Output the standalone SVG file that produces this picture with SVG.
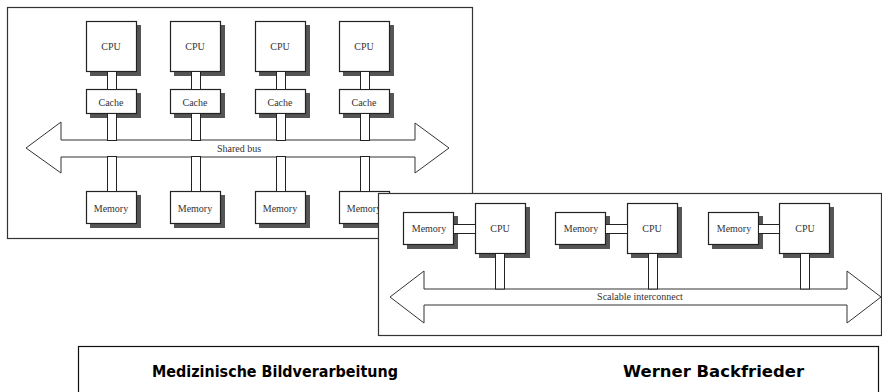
<svg xmlns="http://www.w3.org/2000/svg" width="882" height="392" viewBox="0 0 882 392">
<defs>
<style>
.frame{fill:#fff;stroke:#333;stroke-width:1.2}
.sh{fill:#555}
.box{fill:#fff;stroke:#222;stroke-width:1.2}
.lnk{fill:#fff;stroke:#222;stroke-width:1}
.bus{fill:#fff;stroke:#333;stroke-width:1}
.t{font-family:"Liberation Serif","Times New Roman",serif;font-size:10px;fill:#333;text-anchor:middle}
.ft{font-family:"DejaVu Sans","Noto Sans",sans-serif;font-weight:bold;font-size:15px;fill:#000}
</style>
</defs>
<rect width="882" height="392" fill="#fff"/>

<!-- Frame 1: shared bus -->
<g id="frame1">
<rect class="frame" x="7.5" y="7.5" width="465" height="231"/>
</g>
<g id="shared-bus">
<polygon class="bus" points="26,148 61,122 61,140 415,140 415,123 449,148 415,173 415,157 61,157 61,173"/>
<text class="t" x="239" y="152">Shared bus</text>
</g>
<g id="cpu1"><rect class="sh" x="90" y="25" width="51" height="51"/><rect class="box" x="86.5" y="21.5" width="50" height="50"/><text class="t" x="111" y="50">CPU</text></g>
<g id="cpu2"><rect class="sh" x="174" y="25" width="51" height="51"/><rect class="box" x="170.5" y="21.5" width="50" height="50"/><text class="t" x="195" y="50">CPU</text></g>
<g id="cpu3"><rect class="sh" x="259" y="25" width="51" height="51"/><rect class="box" x="255.5" y="21.5" width="50" height="50"/><text class="t" x="280" y="50">CPU</text></g>
<g id="cpu4"><rect class="sh" x="343" y="25" width="51" height="51"/><rect class="box" x="339.5" y="21.5" width="50" height="50"/><text class="t" x="364" y="50">CPU</text></g>

<g id="cache1"><rect class="sh" x="90" y="93" width="51" height="25"/><rect class="box" x="86.5" y="89.5" width="50" height="24"/><text class="t" x="111" y="106">Cache</text></g>
<g id="cache2"><rect class="sh" x="174" y="93" width="51" height="25"/><rect class="box" x="170.5" y="89.5" width="50" height="24"/><text class="t" x="195" y="106">Cache</text></g>
<g id="cache3"><rect class="sh" x="259" y="93" width="51" height="25"/><rect class="box" x="255.5" y="89.5" width="50" height="24"/><text class="t" x="280" y="106">Cache</text></g>
<g id="cache4"><rect class="sh" x="343" y="93" width="51" height="25"/><rect class="box" x="339.5" y="89.5" width="50" height="24"/><text class="t" x="364" y="106">Cache</text></g>

<g id="mem1"><rect class="sh" x="90" y="195" width="51" height="33"/><rect class="box" x="86.5" y="191.5" width="50" height="32"/><text class="t" x="111" y="212">Memory</text></g>
<g id="mem2"><rect class="sh" x="174" y="195" width="51" height="33"/><rect class="box" x="170.5" y="191.5" width="50" height="32"/><text class="t" x="195" y="212">Memory</text></g>
<g id="mem3"><rect class="sh" x="259" y="195" width="51" height="33"/><rect class="box" x="255.5" y="191.5" width="50" height="32"/><text class="t" x="280" y="212">Memory</text></g>
<g id="mem4"><rect class="sh" x="343" y="195" width="51" height="33"/><rect class="box" x="339.5" y="191.5" width="50" height="32"/><text class="t" x="364" y="212">Memory</text></g>

<g id="connectors1">
<rect class="lnk" x="107.5" y="71.5" width="9" height="18"/>
<rect class="lnk" x="191.5" y="71.5" width="9" height="18"/>
<rect class="lnk" x="276.5" y="71.5" width="9" height="18"/>
<rect class="lnk" x="360.5" y="71.5" width="9" height="18"/>
<rect class="lnk" x="107.5" y="113.5" width="9" height="27"/>
<rect class="lnk" x="191.5" y="113.5" width="9" height="27"/>
<rect class="lnk" x="276.5" y="113.5" width="9" height="27"/>
<rect class="lnk" x="360.5" y="113.5" width="9" height="27"/>
<rect class="lnk" x="107.5" y="156.5" width="9" height="35"/>
<rect class="lnk" x="191.5" y="156.5" width="9" height="35"/>
<rect class="lnk" x="276.5" y="156.5" width="9" height="35"/>
<rect class="lnk" x="360.5" y="156.5" width="9" height="35"/>
</g>

<!-- Frame 2: scalable interconnect -->
<g id="frame2">
<rect class="frame" x="378.5" y="193.5" width="503" height="142"/>
</g>
<g id="interconnect">
<polygon class="bus" points="390,297 424,271 424,289 847,289 847,271 881,297 847,323 847,305 424,305 424,323"/>
<text class="t" x="640" y="300">Scalable interconnect</text>
</g>
<g id="m2a"><rect class="sh" x="407" y="216" width="51" height="33"/><rect class="box" x="403.5" y="212.5" width="50" height="32"/><text class="t" x="429" y="232">Memory</text></g>
<g id="m2b"><rect class="sh" x="559" y="216" width="51" height="33"/><rect class="box" x="555.5" y="212.5" width="50" height="32"/><text class="t" x="581" y="232">Memory</text></g>
<g id="m2c"><rect class="sh" x="712" y="216" width="51" height="33"/><rect class="box" x="708.5" y="212.5" width="50" height="32"/><text class="t" x="734" y="232">Memory</text></g>
<g id="c2a"><rect class="sh" x="479" y="207" width="51" height="51"/><rect class="box" x="475.5" y="203.5" width="50" height="50"/><text class="t" x="500" y="232">CPU</text></g>
<g id="c2b"><rect class="sh" x="631" y="207" width="51" height="51"/><rect class="box" x="627.5" y="203.5" width="50" height="50"/><text class="t" x="652" y="232">CPU</text></g>
<g id="c2c"><rect class="sh" x="783" y="207" width="51" height="51"/><rect class="box" x="779.5" y="203.5" width="50" height="50"/><text class="t" x="805" y="232">CPU</text></g>
<g id="connectors2">
<rect class="lnk" x="453.5" y="224.5" width="22" height="9"/>
<rect class="lnk" x="605.5" y="224.5" width="22" height="9"/>
<rect class="lnk" x="758.5" y="224.5" width="21" height="9"/>
<rect class="lnk" x="495.5" y="253.5" width="9" height="35.5"/>
<rect class="lnk" x="648.5" y="253.5" width="9" height="35.5"/>
<rect class="lnk" x="800.5" y="253.5" width="9" height="35.5"/>
</g>

<!-- Footer -->
<g id="footer">
<rect x="78.5" y="346.5" width="800" height="60" fill="#fff" stroke="#111" stroke-width="1.2"/>
<text class="ft" x="152" y="377" textLength="246" lengthAdjust="spacingAndGlyphs">Medizinische Bildverarbeitung</text>
<text class="ft" x="623" y="377" textLength="181" lengthAdjust="spacingAndGlyphs">Werner Backfrieder</text>
</g>
</svg>
